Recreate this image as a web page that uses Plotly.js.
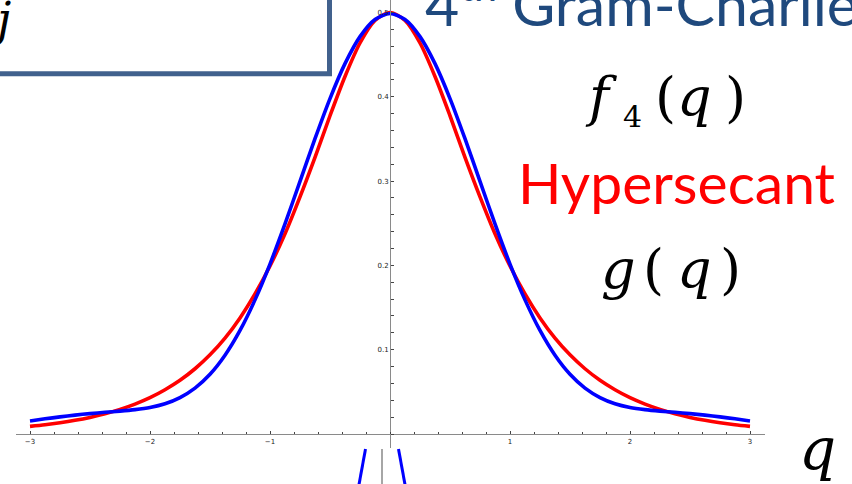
<!DOCTYPE html>
<html>
<head>
<meta charset="utf-8">
<script src="https://cdn.plot.ly/plotly-3.0.1.min.js"></script>
<style>
  html, body { margin: 0; padding: 0; background: #ffffff; }
  #chart { width: 852px; height: 484px; }
</style>
</head>
<body>
<div id="chart"></div>
<script>
// Sample points along q
const qValues = [-3, -2.875, -2.75, -2.625, -2.5, -2.375, -2.25, -2.125, -2, -1.875, -1.75, -1.625,
                 -1.5, -1.375, -1.25, -1.125, -1, -0.875, -0.75, -0.625, -0.5, -0.375, -0.25, -0.125,
                 0,
                 0.125, 0.25, 0.375, 0.5, 0.625, 0.75, 0.875, 1, 1.125, 1.25, 1.375, 1.5,
                 1.625, 1.75, 1.875, 2, 2.125, 2.25, 2.375, 2.5, 2.625, 2.75, 2.875, 3];

// Hypersecant density g(q)
const hypersecant = [0.0090, 0.0109, 0.0133, 0.0162, 0.0197, 0.0240, 0.0292, 0.0355, 0.0431, 0.0525, 0.0637, 0.0774,
                     0.0939, 0.1137, 0.1377, 0.1662, 0.1993, 0.2375, 0.2813, 0.3282, 0.3775, 0.4241, 0.4638, 0.4905,
                     0.5000,
                     0.4905, 0.4638, 0.4241, 0.3775, 0.3282, 0.2813, 0.2375, 0.1993, 0.1662, 0.1377, 0.1137, 0.0939,
                     0.0774, 0.0637, 0.0525, 0.0431, 0.0355, 0.0292, 0.0240, 0.0197, 0.0162, 0.0133, 0.0109, 0.0090];

// 4th order Gram-Charlier expansion f4(q)
const gramCharlier4 = [0.0155, 0.0180, 0.0203, 0.0224, 0.0242, 0.0257, 0.0271, 0.0289, 0.0315, 0.0359, 0.0432, 0.0544,
                       0.0708, 0.0934, 0.1228, 0.1591, 0.2016, 0.2492, 0.2997, 0.3503, 0.3979, 0.4393, 0.4714, 0.4917,
                       0.4987,
                       0.4917, 0.4714, 0.4393, 0.3979, 0.3503, 0.2997, 0.2492, 0.2016, 0.1591, 0.1228, 0.0934, 0.0708,
                       0.0544, 0.0432, 0.0359, 0.0315, 0.0289, 0.0271, 0.0257, 0.0242, 0.0224, 0.0203, 0.0180, 0.0155];

// Axis tick labels
const xTickVals = [-3, -2, -1, 1, 2, 3];
const xTickText = ['\u22123', '\u22122', '\u22121', '1', '2', '3'];
const yTickVals = [0.1, 0.2, 0.3, 0.4, 0.5];
const yTickText = ['0.1', '0.2', '0.3', '0.4', '0.5'];

const W = 852, H = 484;
const px = x => x / W;
const py = y => (H - y) / H;

const SERIF = 'DejaVu Serif';
const SANS = 'Lato';

const traces = [
  { x: qValues, y: hypersecant, type: 'scatter', mode: 'lines',
    line: { color: '#ff0000', width: 3.6, shape: 'spline', smoothing: 0.8 },
    hoverinfo: 'skip', showlegend: false },
  { x: qValues, y: gramCharlier4, type: 'scatter', mode: 'lines',
    line: { color: '#0000ff', width: 3.6, shape: 'spline', smoothing: 0.8 },
    hoverinfo: 'skip', showlegend: false }
];

// text label helper: centre x and box bottom in pixels
function label(text, cx, bottom, size, color, family, anchor) {
  return {
    text: text, xref: 'paper', yref: 'paper',
    x: px(cx), y: py(bottom), xanchor: anchor || 'center', yanchor: 'bottom',
    showarrow: false, borderpad: 0, borderwidth: 0,
    font: { family: family, size: size, color: color }
  };
}

const annotations = [
  label('4<sup>th</sup> Gram-Charlier', 425, 39, 59, '#1f497d', SANS, 'left'),
  label('Hypersecant', 676, 216, 57, '#ff0000', SANS),
  // f4(q)
  label('<i>f</i>', 601, 129, 54, '#000000', SERIF),
  label('4', 632, 134, 30, '#000000', SERIF),
  label('(', 665, 129, 54, '#000000', SERIF),
  label('<i>q</i>', 694, 129, 54, '#000000', SERIF),
  label(')', 735, 129, 54, '#000000', SERIF),
  // g(q)
  label('<i>g</i>', 618, 301, 54, '#000000', SERIF),
  label('(', 653, 301, 54, '#000000', SERIF),
  label('<i>q</i>', 694, 301, 54, '#000000', SERIF),
  label(')', 730, 301, 54, '#000000', SERIF),
  // axis symbol
  label('<i>q</i>', 817, 483, 58, '#000000', SERIF),
  // partial symbol inside the framed box
  label('<i>j</i>', 11, 46, 46, '#000000', SERIF, 'right')
];

const shapes = [
  { type: 'rect', xref: 'paper', yref: 'paper',
    x0: px(-30), x1: px(329.5), y0: py(73.7), y1: py(-30),
    line: { color: '#41618d', width: 5 }, fillcolor: 'rgba(255,255,255,0)', layer: 'above' },
  { type: 'line', xref: 'paper', yref: 'paper',
    x0: px(382), x1: px(382), y0: py(449), y1: py(490),
    line: { color: '#888888', width: 1.5 } },
  { type: 'line', xref: 'paper', yref: 'paper',
    x0: px(365.5), x1: px(358), y0: py(449), y1: py(490),
    line: { color: '#0000ff', width: 3 } },
  { type: 'line', xref: 'paper', yref: 'paper',
    x0: px(398.5), x1: px(406), y0: py(449), y1: py(490),
    line: { color: '#0000ff', width: 3 } }
];

const axisCommon = {
  showgrid: false, zeroline: false, showline: true,
  linecolor: '#8a8a8a', linewidth: 1.4,
  ticks: 'inside', ticklen: 3, tickwidth: 1, tickcolor: '#444444',
  tickfont: { family: 'DejaVu Sans', size: 7, color: '#222222' },
  fixedrange: true
};

const layout = {
  width: W, height: H,
  margin: { l: 0, r: 0, t: 0, b: 0, pad: 0 },
  paper_bgcolor: '#ffffff', plot_bgcolor: 'rgba(0,0,0,0)',
  showlegend: false,
  xaxis: Object.assign({}, axisCommon, {
    domain: [px(16), px(765)], range: [-3.1167, 3.125],
    anchor: 'free', position: py(434),
    tickmode: 'array', tickvals: xTickVals, ticktext: xTickText,
    minor: { tick0: 0, dtick: 0.2, ticks: 'inside', ticklen: 2.5, tickwidth: 1, tickcolor: '#444444' }
  }),
  yaxis: Object.assign({}, axisCommon, {
    domain: [py(447.7), 1], range: [-0.01625, 0.5148],
    anchor: 'free', position: px(390),
    tickmode: 'array', tickvals: yTickVals, ticktext: yTickText,
    minor: { tick0: 0, dtick: 0.02, ticks: 'inside', ticklen: 2.5, tickwidth: 1, tickcolor: '#444444' }
  }),
  annotations: annotations,
  shapes: shapes
};

Plotly.newPlot('chart', traces, layout, { displayModeBar: false, staticPlot: true });
</script>
</body>
</html>
